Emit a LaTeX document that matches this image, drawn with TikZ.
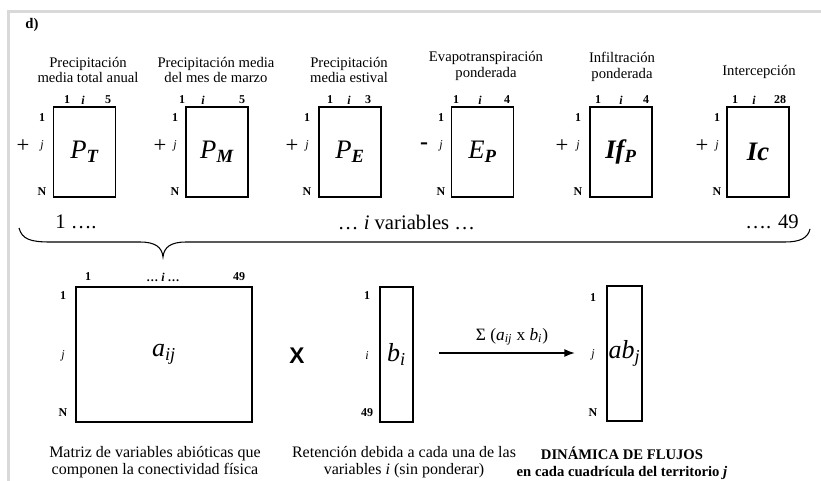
\documentclass[tikz,border=0pt]{standalone}
\usepackage{fontspec}
\setmainfont{Liberation Serif}
\setsansfont{Liberation Sans}
\usetikzlibrary{shapes,arrows.meta,positioning}

\begin{document}
\begin{tikzpicture}[x=0.75pt,y=-0.75pt,
  vartitle/.style={font=\fontsize{11}{11.5}\selectfont, align=center, inner sep=0pt},
  idx/.style={font=\fontsize{9}{10}\selectfont\bfseries, inner sep=0pt},
  idxi/.style={font=\fontsize{9}{10}\selectfont\bfseries\itshape, inner sep=0pt},
  idxj/.style={font=\fontsize{9}{10}\selectfont\itshape, inner sep=0pt},
  opsign/.style={font=\fontsize{17}{17}\selectfont, inner sep=0pt},
  varbox/.style={draw, line width=0.8pt, minimum width=46.5pt, minimum height=67.5pt, inner sep=0pt, font=\fontsize{20}{20}\selectfont\itshape},
  matbox/.style={draw, line width=0.8pt, minimum height=101.25pt, inner sep=0pt, font=\fontsize{19.5}{19.5}\selectfont\itshape},
  capt/.style={font=\fontsize{12}{12.5}\selectfont, align=center, inner sep=0pt},
  bigtext/.style={font=\fontsize{15.5}{16}\selectfont, inner sep=0pt}]
\useasboundingbox (0,0) rectangle (821,481);

% Frame
\draw[black!15, line width=2pt] (8.5,481) -- (8.5,11.5) -- (821,11.5);
\node[font=\fontsize{11}{11}\selectfont\bfseries, inner sep=0pt] (panel) at (32,25) {d)};

% Precipitacion media total anual
\node[vartitle] (tPT) at (88,70) {Precipitación\\media total anual};
\node[varbox] (PT) at (84.5,152) {P\textsubscript{\textbf{T}}};
\node[idx] (PTc1) at (67,100) {1};
\node[idxi] (PTci) at (83,100) {i};
\node[idx] (PTcn) at (108,100) {5};
\node[idx] (PTr1) at (42,118) {1};
\node[idxj] (PTrj) at (42,146) {j};
\node[idx] (PTrN) at (42,192) {N};
\node[opsign] (sPT) at (23,146) {+};

% Precipitacion de marzo
\node[vartitle] (tPM) at (216,70) {Precipitación media\\del mes de marzo};
\node[varbox] (PM) at (217,152) {P\textsubscript{\textbf{M}}};
\node[idx] (PMc1) at (182,100) {1};
\node[idxi] (PMci) at (203,100) {i};
\node[idx] (PMcn) at (242,100) {5};
\node[idx] (PMr1) at (175,118) {1};
\node[idxj] (PMrj) at (175,146) {j};
\node[idx] (PMrN) at (175,192) {N};
\node[opsign] (sPM) at (160,146) {+};

% Precipitacion estival
\node[vartitle] (tPE) at (349,70) {Precipitación\\media estival};
\node[varbox] (PE) at (350,152) {P\textsubscript{\textbf{E}}};
\node[idx] (PEc1) at (330,100) {1};
\node[idxi] (PEci) at (349,100) {i};
\node[idx] (PEcn) at (368,100) {3};
\node[idx] (PEr1) at (307,118) {1};
\node[idxj] (PErj) at (307,146) {j};
\node[idx] (PErN) at (307,192) {N};
\node[opsign] (sPE) at (292,146) {+};

% Evapotranspiracion
\node[vartitle] (tEP) at (486,66) {Evapotranspiración\\ponderada};
\node[varbox] (EP) at (482.5,152) {E\textsubscript{\textbf{P}}};
\node[idx] (EPc1) at (456,100) {1};
\node[idxi] (EPci) at (480,100) {i};
\node[idx] (EPcn) at (507,100) {4};
\node[idx] (EPr1) at (441,118) {1};
\node[idxj] (EPrj) at (441,146) {j};
\node[idx] (EPrN) at (441,192) {N};
\node[opsign, font=\fontsize{18}{18}\selectfont\bfseries] (sEP) at (424,146) {-};

% Infiltracion
\node[vartitle] (tIf) at (622,67) {Infiltración\\ponderada};
\node[varbox] (If) at (621,152) {\textbf{If}\textsubscript{\textbf{P}}};
\node[idx] (Ifc1) at (598,100) {1};
\node[idxi] (Ifci) at (621,100) {i};
\node[idx] (Ifcn) at (646,100) {4};
\node[idx] (Ifr1) at (578,118) {1};
\node[idxj] (Ifrj) at (578,146) {j};
\node[idx] (IfrN) at (578,192) {N};
\node[opsign] (sIf) at (562,146) {+};

% Intercepcion
\node[vartitle] (tIc) at (759,72) {Intercepción};
\node[varbox] (Ic) at (758,152) {\textbf{Ic}};
\node[idx] (Icc1) at (735,100) {1};
\node[idxi] (Icci) at (754,100) {i};
\node[idx] (Iccn) at (780,100) {28};
\node[idx] (Icr1) at (717,118) {1};
\node[idxj] (Icrj) at (717,146) {j};
\node[idx] (IcrN) at (717,192) {N};
\node[opsign] (sIc) at (702,146) {+};

% Variables
\node[bigtext, anchor=west] (first) at (55,222) {1 ….};
\node[bigtext] (middle) at (406.5,222) {… \textit{i} variables …};
\node[bigtext, anchor=east] (last) at (799,222) {…. 49};
\draw[line width=0.8pt] (19,228) .. controls (22,239) and (30,242) .. (50,242) -- (140,242)
  .. controls (155,242) and (162,247) .. (163,257) .. controls (164,247) and (171,242) .. (186,242)
  -- (785,242) .. controls (800,242) and (808,238) .. (810,229);

% Matriz a_ij
\node[matbox, minimum width=132pt] (A) at (164,354.5) {a\textsubscript{ij}};
\node[idx] (Ac1) at (88,277) {1};
\node[idx] (Aci) at (163,277) {… \textit{i} …};
\node[idx] (Acn) at (239,277) {49};
\node[idx] (Ar1) at (63,296) {1};
\node[idxj] (Arj) at (63,356) {j};
\node[idx] (ArN) at (63,413) {N};
\node[font=\sffamily\bfseries\fontsize{17}{17}\selectfont, inner sep=0pt] (times) at (297,356) {X};

% Vector b_i
\node[matbox, minimum width=24.75pt] (B) at (396.5,354.5) {b\textsubscript{i}};
\node[idx] (Br1) at (367,296) {1};
\node[idxj] (Bri) at (367,356) {i};
\node[idx] (BrN) at (367,413) {49};

% Resultado ab_j
\node[matbox, minimum width=26.25pt] (AB) at (624.5,353.5) {ab\textsubscript{j}};
\node[idx] (ABr1) at (593,298) {1};
\node[idxj] (ABrj) at (593,355) {j};
\node[idx] (ABrN) at (593,413) {N};

% Sum arrow
\coordinate (sumstart) at (439,353);
\coordinate (sumend) at (575,353);
\draw[line width=1.2pt, -{Latex[length=8pt,width=6pt]}] (sumstart) -- (sumend);
\node[font=\fontsize{13}{13}\selectfont, inner sep=0pt] (sum) at (512,337)
  {Σ (\textit{a}\textsubscript{\textit{ij}} x \textit{b}\textsubscript{\textit{i}})};

% Captions
\node[capt] (capA) at (155,462) {Matriz de variables abióticas que\\componen la conectividad física};
\node[capt] (capB) at (404,462) {Retención debida a cada una de las\\variables \textit{i} (sin ponderar)};
\node[capt, font=\fontsize{11}{12.5}\selectfont\bfseries] (capAB) at (622,463) {DINÁMICA DE FLUJOS\\en cada cuadrícula del territorio \textit{j}};
\end{tikzpicture}
\end{document}
